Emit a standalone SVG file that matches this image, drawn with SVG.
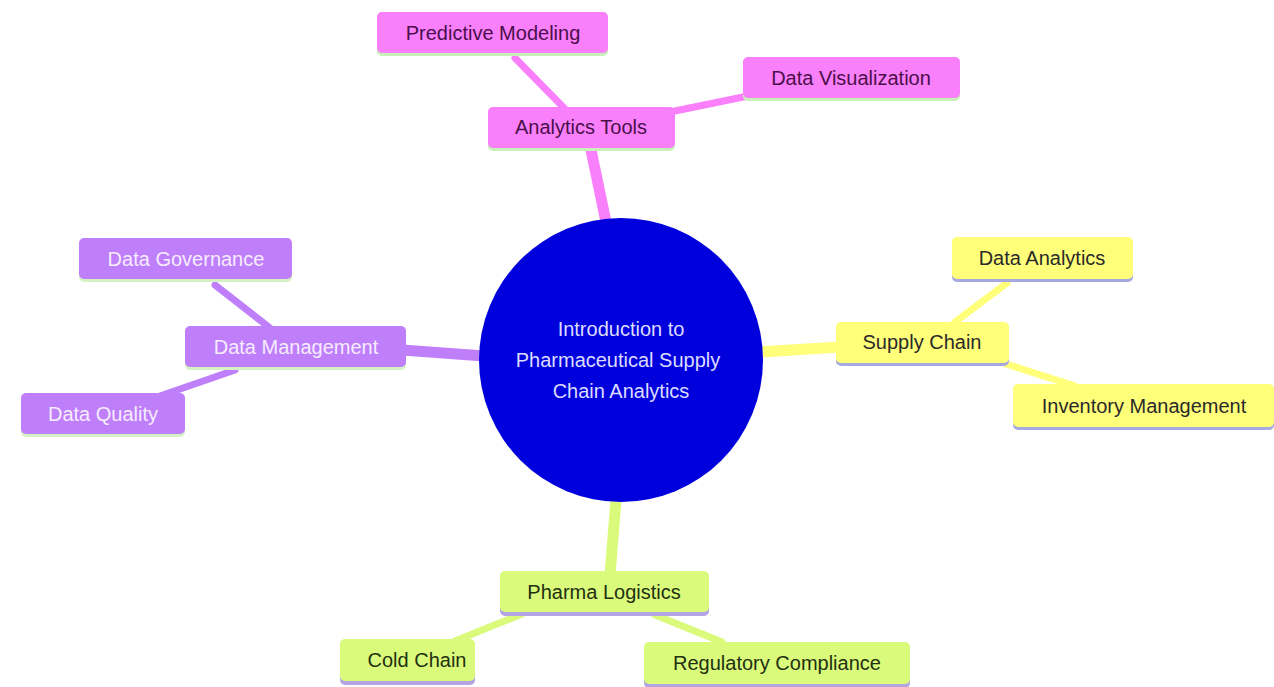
<svg xmlns="http://www.w3.org/2000/svg" width="1274" height="687" viewBox="0 0 1274 687">
<style>
text{font-family:"Liberation Sans",Arial,sans-serif;font-size:20px;text-anchor:middle;dominant-baseline:central}
.pk rect.b{fill:#fa7ffa}.pk rect.u{fill:#c8f0b8}.pk text{fill:#4a0f4a}
.ye rect.b{fill:#ffff7a}.ye rect.u{fill:#a8a8e0}.ye text{fill:#2a2a2a}
.pu rect.b{fill:#c07ffa}.pu rect.u{fill:#d4f2c4}.pu text{fill:#f6ecff}
.gr rect.b{fill:#dafa7c}.gr rect.u{fill:#b4a4e4}.gr text{fill:#223010}
.e{fill:none;stroke-linecap:round}
</style>
<rect width="1274" height="687" fill="#ffffff"/>
<g id="connectors">
<line class="e" x1="590" y1="145" x2="606" y2="222" stroke="#fa7ffa" stroke-width="11"/>
<line class="e" x1="515" y1="58" x2="566" y2="110" stroke="#fa7ffa" stroke-width="7"/>
<line class="e" x1="748" y1="96" x2="670" y2="112" stroke="#fa7ffa" stroke-width="7"/>
<line class="e" x1="840" y1="347" x2="760" y2="352" stroke="#ffff7a" stroke-width="11"/>
<line class="e" x1="1007" y1="283" x2="955" y2="322" stroke="#ffff7a" stroke-width="7"/>
<line class="e" x1="1075" y1="386" x2="1000" y2="362" stroke="#ffff7a" stroke-width="7"/>
<line class="e" x1="402" y1="350" x2="484" y2="356" stroke="#c07ffa" stroke-width="11"/>
<line class="e" x1="215" y1="285" x2="270" y2="328" stroke="#c07ffa" stroke-width="7"/>
<line class="e" x1="160" y1="396" x2="235" y2="370" stroke="#c07ffa" stroke-width="7"/>
<line class="e" x1="610" y1="575" x2="616" y2="500" stroke="#dafa7c" stroke-width="11"/>
<line class="e" x1="455" y1="641" x2="522" y2="614" stroke="#dafa7c" stroke-width="7"/>
<line class="e" x1="722" y1="642" x2="655" y2="615" stroke="#dafa7c" stroke-width="7"/>
</g>
<g id="root">
<circle cx="621" cy="360" r="142" fill="#0000dd"/>
<text x="621" y="329" fill="#dcdcff">Introduction to</text>
<text x="618" y="360" fill="#dcdcff">Pharmaceutical Supply</text>
<text x="621" y="391" fill="#dcdcff">Chain Analytics</text>
</g>
<g id="analytics-tools" class="pk"><rect class="u" x="488" y="108" width="187" height="43" rx="5"/><rect class="b" x="488" y="107" width="187" height="41" rx="5"/><text x="581" y="127">Analytics Tools</text></g>
<g id="predictive-modeling" class="pk"><rect class="u" x="377" y="13" width="231" height="43" rx="5"/><rect class="b" x="377" y="12" width="231" height="41" rx="5"/><text x="493" y="33">Predictive Modeling</text></g>
<g id="data-visualization" class="pk"><rect class="u" x="743" y="58" width="217" height="43" rx="5"/><rect class="b" x="743" y="57" width="217" height="41" rx="5"/><text x="851" y="78">Data Visualization</text></g>
<g id="supply-chain" class="ye"><rect class="u" x="836" y="323" width="173" height="43" rx="5"/><rect class="b" x="836" y="322" width="173" height="41" rx="5"/><text x="922" y="342">Supply Chain</text></g>
<g id="data-analytics" class="ye"><rect class="u" x="952" y="238" width="181" height="44" rx="5"/><rect class="b" x="952" y="237" width="181" height="42" rx="5"/><text x="1042" y="258">Data Analytics</text></g>
<g id="inventory-management" class="ye"><rect class="u" x="1013" y="385" width="261" height="45" rx="5"/><rect class="b" x="1013" y="384" width="261" height="43" rx="5"/><text x="1144" y="406">Inventory Management</text></g>
<g id="data-management" class="pu"><rect class="u" x="185" y="327" width="221" height="43" rx="5"/><rect class="b" x="185" y="326" width="221" height="41" rx="5"/><text x="296" y="347">Data Management</text></g>
<g id="data-governance" class="pu"><rect class="u" x="79" y="239" width="213" height="43" rx="5"/><rect class="b" x="79" y="238" width="213" height="41" rx="5"/><text x="186" y="259">Data Governance</text></g>
<g id="data-quality" class="pu"><rect class="u" x="21" y="394" width="164" height="43" rx="5"/><rect class="b" x="21" y="393" width="164" height="41" rx="5"/><text x="103" y="414">Data Quality</text></g>
<g id="pharma-logistics" class="gr"><rect class="u" x="500" y="572" width="209" height="44" rx="5"/><rect class="b" x="500" y="571" width="209" height="41" rx="5"/><text x="604" y="592">Pharma Logistics</text></g>
<g id="cold-chain" class="gr"><rect class="u" x="340" y="640" width="135" height="45" rx="5"/><rect class="b" x="340" y="639" width="135" height="42" rx="5"/><text x="417" y="660">Cold Chain</text></g>
<g id="regulatory-compliance" class="gr"><rect class="u" x="644" y="643" width="266" height="45" rx="5"/><rect class="b" x="644" y="642" width="266" height="42" rx="5"/><text x="777" y="663">Regulatory Compliance</text></g>
</svg>
